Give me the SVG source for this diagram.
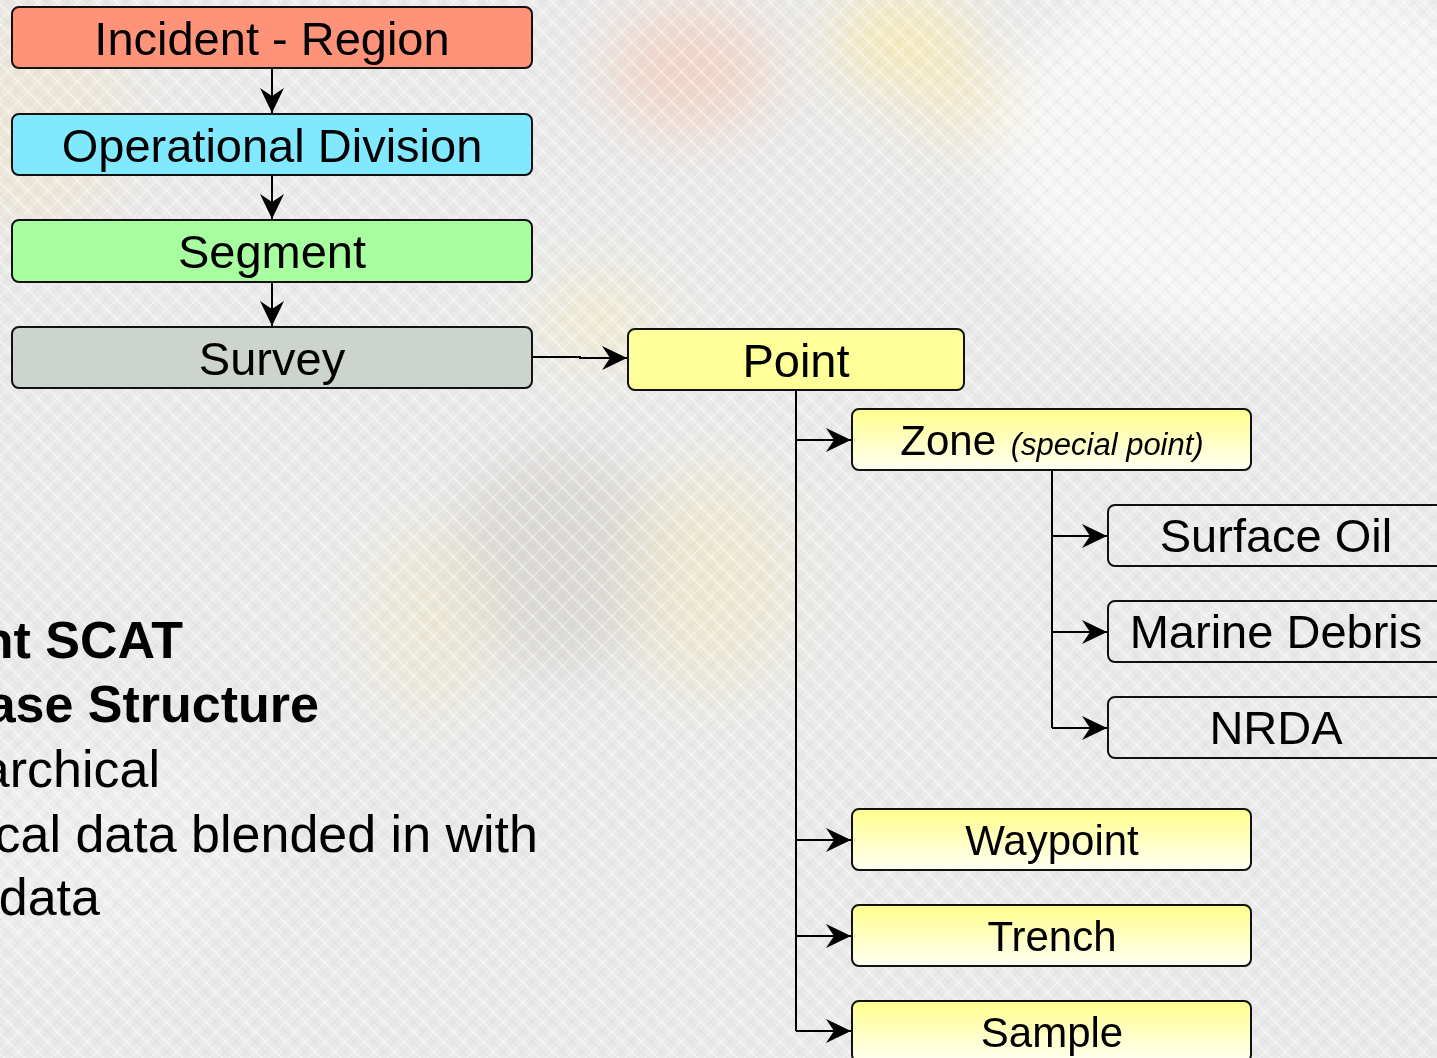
<svg xmlns="http://www.w3.org/2000/svg" width="1437" height="1058" viewBox="0 0 1437 1058">
  <defs>
    <style>
      .box { stroke: #111; stroke-width: 2; }
      .lbl { font-family: "Liberation Sans", Arial, sans-serif; font-size: 47px; fill: #000; text-anchor: middle; }
      .lbl42 { font-size: 42px; }
      .conn { fill: none; stroke: #000; stroke-width: 2; }
      .body { font-family: "Liberation Sans", Arial, sans-serif; font-size: 52px; fill: #000; text-anchor: end; }
    </style>
    <marker id="arrow" markerUnits="userSpaceOnUse" markerWidth="28" markerHeight="26" refX="25" refY="12" orient="auto">
      <path d="M0,0 L25,12 L0,24 L8,12 Z" fill="#000"/>
    </marker>
    <linearGradient id="fadeYellow" x1="0" y1="0" x2="0" y2="1">
      <stop offset="0" stop-color="#FFFF8C"/>
      <stop offset="1" stop-color="#FFFFF4"/>
    </linearGradient>
    <pattern id="hatch" width="14" height="14" patternUnits="userSpaceOnUse" patternTransform="rotate(45)">
      <line x1="0" y1="0" x2="0" y2="14" stroke="#FFFFFF" stroke-width="2" opacity="0.5"/>
      <line x1="7" y1="0" x2="7" y2="14" stroke="#C8C8CC" stroke-width="1" opacity="0.3"/>
      <line x1="0" y1="3" x2="14" y2="3" stroke="#FFFFFF" stroke-width="2" opacity="0.4"/>
      <line x1="0" y1="10" x2="14" y2="10" stroke="#C4C4C8" stroke-width="1" opacity="0.25"/>
    </pattern>
    <filter id="soft" x="-50%" y="-50%" width="200%" height="200%">
      <feGaussianBlur stdDeviation="28"/>
    </filter>
  </defs>

  <!-- textured backdrop -->
  <g id="backdrop">
    <rect width="1437" height="1058" fill="#EAEAEA"/>
    <g filter="url(#soft)">
      <ellipse cx="1250" cy="150" rx="260" ry="190" fill="#F6F6F6"/>
      <ellipse cx="690" cy="70" rx="80" ry="60" fill="#F2D2C2" opacity="0.9"/>
      <ellipse cx="900" cy="40" rx="70" ry="50" fill="#F6EBB8" opacity="0.9"/>
      <ellipse cx="960" cy="100" rx="50" ry="40" fill="#F5EBC4" opacity="0.8"/>
      <ellipse cx="40" cy="120" rx="80" ry="120" fill="#EFE5D0" opacity="0.7"/>
      <ellipse cx="600" cy="320" rx="60" ry="40" fill="#F2ECC8" opacity="0.8"/>
      <ellipse cx="560" cy="560" rx="110" ry="110" fill="#D8D6D2" opacity="0.85"/>
      <ellipse cx="710" cy="580" rx="80" ry="110" fill="#EEE8CC" opacity="0.8"/>
      <ellipse cx="430" cy="620" rx="60" ry="90" fill="#EEE8CE" opacity="0.7"/>
      <ellipse cx="100" cy="850" rx="160" ry="120" fill="#F2F2F2" opacity="0.5"/>
    </g>
    <rect width="1437" height="1058" fill="url(#hatch)"/>
  </g>

  <!-- connectors -->
  <g id="connectors">
    <path class="conn" d="M272,68 V113" marker-end="url(#arrow)"/>
    <path class="conn" d="M272,175 V219" marker-end="url(#arrow)"/>
    <path class="conn" d="M272,282 V326" marker-end="url(#arrow)"/>
    <path class="conn" d="M532,357 H580 V358 H627" marker-end="url(#arrow)"/>
    <path class="conn" d="M796,390 V1031"/>
    <path class="conn" d="M796,440 H851" marker-end="url(#arrow)"/>
    <path class="conn" d="M796,840 H851" marker-end="url(#arrow)"/>
    <path class="conn" d="M796,936 H851" marker-end="url(#arrow)"/>
    <path class="conn" d="M796,1031 H851" marker-end="url(#arrow)"/>
    <path class="conn" d="M1052,470 V728"/>
    <path class="conn" d="M1052,536 H1107" marker-end="url(#arrow)"/>
    <path class="conn" d="M1052,632 H1107" marker-end="url(#arrow)"/>
    <path class="conn" d="M1052,728 H1107" marker-end="url(#arrow)"/>
  </g>

  <!-- hierarchy nodes -->
  <g id="incident-region">
    <rect class="box" x="12" y="7" width="520" height="61" rx="7" fill="#FF937A"/>
    <text class="lbl" x="272" y="55">Incident - Region</text>
  </g>
  <g id="operational-division">
    <rect class="box" x="12" y="114" width="520" height="61" rx="7" fill="#80E8FF"/>
    <text class="lbl" x="272" y="162">Operational Division</text>
  </g>
  <g id="segment">
    <rect class="box" x="12" y="220" width="520" height="62" rx="7" fill="#A8FFA0"/>
    <text class="lbl" x="272" y="268">Segment</text>
  </g>
  <g id="survey">
    <rect class="box" x="12" y="327" width="520" height="61" rx="7" fill="#CDD4CE"/>
    <text class="lbl" x="272" y="375">Survey</text>
  </g>
  <g id="point">
    <rect class="box" x="628" y="329" width="336" height="61" rx="7" fill="#FFFF99"/>
    <text class="lbl" x="796" y="377">Point</text>
  </g>
  <g id="zone">
    <rect class="box" x="852" y="409" width="399" height="61" rx="7" fill="url(#fadeYellow)"/>
    <text class="lbl lbl42" x="1052" y="455">Zone <tspan font-style="italic" font-size="31" dx="3">(special point)</tspan></text>
  </g>
  <g id="surface-oil">
    <rect class="box" x="1108" y="505" width="340" height="61" rx="7" fill="none"/>
    <text class="lbl" x="1276" y="552">Surface Oil</text>
  </g>
  <g id="marine-debris">
    <rect class="box" x="1108" y="601" width="340" height="61" rx="7" fill="none"/>
    <text class="lbl" x="1276" y="648">Marine Debris</text>
  </g>
  <g id="nrda">
    <rect class="box" x="1108" y="697" width="340" height="61" rx="7" fill="none"/>
    <text class="lbl" x="1276" y="744">NRDA</text>
  </g>
  <g id="waypoint">
    <rect class="box" x="852" y="809" width="399" height="61" rx="7" fill="url(#fadeYellow)"/>
    <text class="lbl lbl42" x="1052" y="855">Waypoint</text>
  </g>
  <g id="trench">
    <rect class="box" x="852" y="905" width="399" height="61" rx="7" fill="url(#fadeYellow)"/>
    <text class="lbl lbl42" x="1052" y="951">Trench</text>
  </g>
  <g id="sample">
    <rect class="box" x="852" y="1001" width="399" height="61" rx="7" fill="url(#fadeYellow)"/>
    <text class="lbl lbl42" x="1052" y="1047">Sample</text>
  </g>

  <!-- slide body text, running off the left edge -->
  <g id="body-text">
    <text class="body" x="183" y="658" font-weight="bold">nt SCAT</text>
    <text class="body" x="319" y="722" font-weight="bold">ase Structure</text>
    <text class="body" x="160" y="787">archical</text>
    <text class="body" x="538" y="852">cal data blended in with</text>
    <text class="body" x="100" y="915">data</text>
  </g>
</svg>
